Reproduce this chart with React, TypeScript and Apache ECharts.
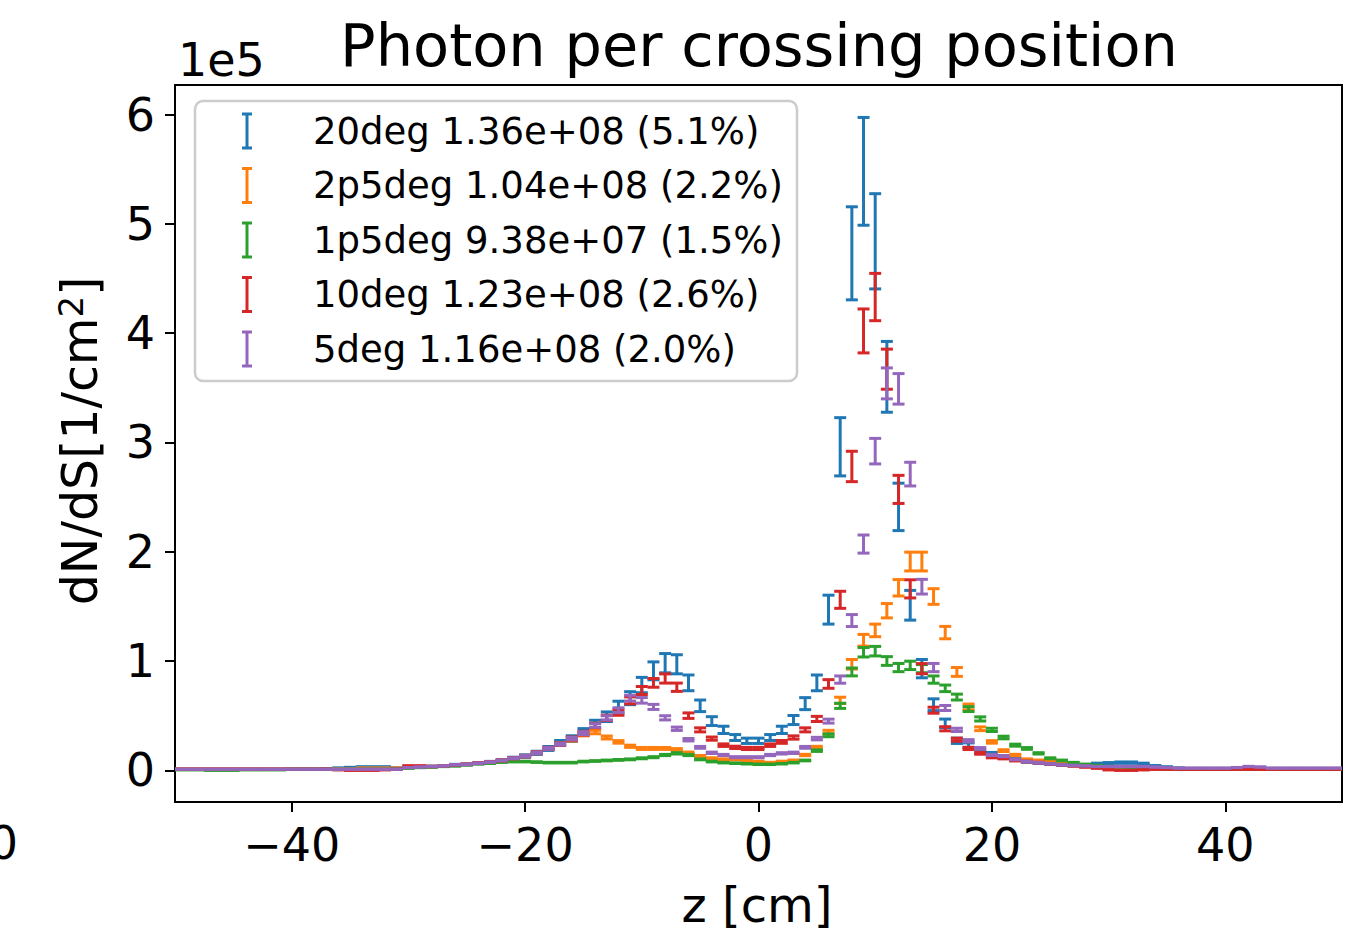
import React, { useEffect, useRef } from "react";
import * as echarts from "echarts";

// bin centres z [cm], 1 cm bins from -50 to 50
const zStart = -50;

// dN/dS in units of 1e5 per bin, z = -50 ... 50
const deg20 = [
  0.01, 0.01, 0.01, 0.01, 0.01, 0.01, 0.01, 0.01, 0.01, 0.01,
  0.01, 0.01, 0.01, 0.015, 0.02, 0.025, 0.03, 0.03, 0.03, 0.02,
  0.025, 0.03, 0.035, 0.04, 0.05, 0.055, 0.065, 0.075, 0.09, 0.11,
  0.13, 0.16, 0.2, 0.25, 0.29, 0.35, 0.42, 0.49, 0.58, 0.66,
  0.78, 0.91, 0.98, 0.97, 0.8, 0.59, 0.45, 0.37, 0.3, 0.27,
  0.27, 0.3, 0.37, 0.46, 0.61, 0.8, 1.47, 2.96, 4.73, 5.48,
  4.84, 3.6, 2.41, 1.51, 0.93, 0.6, 0.43, 0.27, 0.23, 0.17,
  0.15, 0.12, 0.1, 0.08, 0.07, 0.06, 0.05, 0.045, 0.04, 0.06,
  0.065, 0.07, 0.07, 0.06, 0.04, 0.03, 0.02, 0.015, 0.01, 0.01,
  0.01, 0.01, 0.01, 0.01, 0.01, 0.01, 0.01, 0.01, 0.01, 0.01, 0.01,
];
const deg2p5 = [
  0.01, 0.01, 0.01, 0.01, 0.01, 0.01, 0.01, 0.01, 0.01, 0.01,
  0.01, 0.01, 0.01, 0.01, 0.015, 0.015, 0.02, 0.02, 0.02, 0.02,
  0.025, 0.03, 0.035, 0.04, 0.05, 0.055, 0.065, 0.075, 0.09, 0.11,
  0.13, 0.16, 0.2, 0.24, 0.28, 0.33, 0.35, 0.3, 0.26, 0.22,
  0.2, 0.2, 0.2, 0.19, 0.16, 0.13, 0.11, 0.1, 0.1, 0.09,
  0.08, 0.07, 0.08, 0.09, 0.14, 0.21, 0.35, 0.64, 0.97, 1.19,
  1.28, 1.46, 1.67, 1.91, 1.91, 1.59, 1.26, 0.9, 0.58, 0.38,
  0.26, 0.18, 0.14, 0.1, 0.09, 0.08, 0.06, 0.05, 0.04, 0.035,
  0.03, 0.03, 0.025, 0.02, 0.02, 0.015, 0.015, 0.01, 0.01, 0.01,
  0.01, 0.01, 0.01, 0.01, 0.01, 0.01, 0.01, 0.01, 0.01, 0.01, 0.01,
];
const deg1p5 = [
  0.005, 0.005, 0.005, 0.0, 0.0, 0.0, 0.005, 0.005, 0.005, 0.005,
  0.01, 0.01, 0.01, 0.01, 0.01, 0.01, 0.01, 0.01, 0.01, 0.015,
  0.02, 0.025, 0.03, 0.035, 0.04, 0.05, 0.06, 0.065, 0.075, 0.08,
  0.08, 0.075, 0.07, 0.07, 0.07, 0.08, 0.085, 0.09, 0.095, 0.1,
  0.11, 0.12, 0.14, 0.155, 0.14, 0.1, 0.08, 0.07, 0.065, 0.06,
  0.055, 0.055, 0.06, 0.07, 0.09, 0.18, 0.32, 0.59, 0.9, 1.08,
  1.09, 1.0, 0.94, 0.96, 0.93, 0.83, 0.75, 0.67, 0.56, 0.47,
  0.37, 0.3, 0.23, 0.2, 0.155, 0.11, 0.09, 0.07, 0.055, 0.045,
  0.035, 0.03, 0.025, 0.02, 0.015, 0.01, 0.01, 0.01, 0.01, 0.01,
  0.01, 0.01, 0.01, 0.01, 0.01, 0.01, 0.01, 0.01, 0.01, 0.01, 0.01,
];
const deg10 = [
  0.01, 0.01, 0.01, 0.01, 0.01, 0.01, 0.01, 0.01, 0.01, 0.01,
  0.01, 0.01, 0.01, 0.01, 0.005, 0.0, 0.0, 0.0, 0.005, 0.01,
  0.04, 0.04, 0.035, 0.04, 0.05, 0.055, 0.065, 0.075, 0.09, 0.11,
  0.13, 0.16, 0.2, 0.24, 0.29, 0.34, 0.41, 0.48, 0.53, 0.64,
  0.73, 0.8, 0.84, 0.76, 0.5, 0.37, 0.29, 0.23, 0.21, 0.2,
  0.2, 0.23, 0.26, 0.3, 0.37, 0.47, 0.79, 1.56, 2.78, 4.02,
  4.33, 3.67, 2.57, 1.66, 0.93, 0.55, 0.38, 0.28, 0.2, 0.155,
  0.12, 0.11, 0.09, 0.08, 0.07, 0.06, 0.05, 0.04, 0.03, 0.02,
  0.005, 0.0, 0.0, 0.005, 0.01, 0.01, 0.01, 0.01, 0.01, 0.01,
  0.01, 0.01, 0.01, 0.01, 0.01, 0.01, 0.01, 0.01, 0.01, 0.01, 0.01,
];
const deg5 = [
  0.01, 0.01, 0.01, 0.01, 0.01, 0.01, 0.01, 0.01, 0.01, 0.01,
  0.01, 0.01, 0.01, 0.01, 0.01, 0.01, 0.01, 0.01, 0.01, 0.01,
  0.025, 0.03, 0.035, 0.04, 0.05, 0.055, 0.065, 0.075, 0.09, 0.11,
  0.13, 0.16, 0.2, 0.24, 0.29, 0.34, 0.41, 0.48, 0.55, 0.66,
  0.64, 0.58, 0.48, 0.38, 0.28, 0.21, 0.16, 0.14, 0.12, 0.12,
  0.12, 0.14, 0.155, 0.16, 0.21, 0.29, 0.45, 0.83, 1.37, 2.07,
  2.92, 3.54, 3.49, 2.71, 1.68, 0.94, 0.57, 0.37, 0.27, 0.2,
  0.14, 0.13, 0.1, 0.08, 0.07, 0.06, 0.05, 0.045, 0.04, 0.035,
  0.035, 0.035, 0.035, 0.035, 0.03, 0.025, 0.02, 0.02, 0.02, 0.02,
  0.02, 0.025, 0.035, 0.03, 0.02, 0.02, 0.02, 0.02, 0.02, 0.02, 0.02,
];

// relative statistical error
const relErr = [0.09, 0.045, 0.04, 0.05, 0.04];

const seriesNames = ["20deg", "2p5deg", "1p5deg", "10deg", "5deg"];
const legendLabels = [
  "20deg 1.36e+08 (5.1%)",
  "2p5deg 1.04e+08 (2.2%)",
  "1p5deg 9.38e+07 (1.5%)",
  "10deg 1.23e+08 (2.6%)",
  "5deg 1.16e+08 (2.0%)",
];
const seriesValues = [deg20, deg2p5, deg1p5, deg10, deg5];
const colors = ["#1f77b4", "#ff7f0e", "#2ca02c", "#d62728", "#9467bd"];

const xTicks = [-40, -20, 0, 20, 40];
const yTicks = [0, 1, 2, 3, 4, 5, 6];

const FONT = "DejaVu Sans";

export default function App() {
  const ref = useRef<HTMLDivElement>(null);
  useEffect(() => {
    if (!ref.current) return;
    const chart = echarts.init(ref.current, undefined, { renderer: "svg" });

    const capHalf = 6;
    const lw = 3;

    const series = seriesValues.map((vals, si) => ({
      type: "custom",
      name: seriesNames[si],
      clip: true,
      z: 2 + si,
      encode: { x: 0, y: 1 },
      data: vals.map((v, i) => [zStart + i, v, v * relErr[si]]),
      renderItem: (params: any, api: any) => {
        const z = api.value(0);
        const v = api.value(1);
        const e = api.value(2);
        const top = api.coord([z, v + e]);
        const bot = api.coord([z, v - e]);
        const style = { stroke: colors[si], lineWidth: lw, fill: "none" };
        return {
          type: "group",
          children: [
            { type: "line", shape: { x1: top[0], y1: top[1], x2: bot[0], y2: bot[1] }, style },
            { type: "line", shape: { x1: top[0] - capHalf, y1: top[1], x2: top[0] + capHalf, y2: top[1] }, style },
            { type: "line", shape: { x1: bot[0] - capHalf, y1: bot[1], x2: bot[0] + capHalf, y2: bot[1] }, style },
          ],
        };
      },
    }));

    const legendX = 195, legendY = 101, legendW = 602, legendH = 280;
    const rowY0 = 131, rowGap = 54.5;
    const legendEls: any[] = [
      {
        type: "rect",
        z: 100,
        shape: { x: legendX, y: legendY, width: legendW, height: legendH, r: 8 },
        style: { fill: "rgba(255,255,255,0.8)", stroke: "#cccccc", lineWidth: 2.5 },
      },
    ];
    legendLabels.forEach((lab, i) => {
      const cy = rowY0 + i * rowGap;
      const cx = 247;
      const h = 17;
      const st = { stroke: colors[i], lineWidth: 3 };
      legendEls.push(
        { type: "line", z: 101, shape: { x1: cx, y1: cy - h, x2: cx, y2: cy + h }, style: st },
        { type: "line", z: 101, shape: { x1: cx - 5, y1: cy - h, x2: cx + 5, y2: cy - h }, style: st },
        { type: "line", z: 101, shape: { x1: cx - 5, y1: cy + h, x2: cx + 5, y2: cy + h }, style: st },
        {
          type: "text",
          z: 101,
          x: 313,
          y: cy,
          style: { text: lab, fontFamily: FONT, fontSize: 37, fill: "#000", align: "left", verticalAlign: "middle" },
        }
      );
    });

    const option: any = {
      animation: false,
      backgroundColor: "#fff",
      grid: {
        left: 175,
        top: 85,
        width: 1167,
        height: 717,
        show: true,
        borderColor: "#000",
        borderWidth: 2,
        backgroundColor: "transparent",
        containLabel: false,
      },
      xAxis: {
        type: "value",
        min: -50,
        max: 50,
        axisLine: { show: false, onZero: false },
        splitLine: { show: false },
        axisTick: {
          show: true,
          customValues: xTicks,
          length: 10,
          lineStyle: { color: "#000", width: 2 },
        },
        axisLabel: {
          customValues: xTicks,
          fontFamily: FONT,
          fontSize: 46,
          color: "#000",
          margin: 20,
          formatter: (v: number) => (v < 0 ? "\u2212" + Math.abs(v) : String(v)),
        },
      },
      yAxis: {
        type: "value",
        min: -0.29,
        max: 6.27,
        axisLine: { show: false, onZero: false },
        splitLine: { show: false },
        axisTick: {
          show: true,
          customValues: yTicks,
          length: 10,
          lineStyle: { color: "#000", width: 2 },
        },
        axisLabel: {
          customValues: yTicks,
          fontFamily: FONT,
          fontSize: 46,
          color: "#000",
          margin: 20,
          formatter: (v: number) => String(v),
        },
      },
      graphic: [
        {
          type: "text",
          x: 759,
          y: 45,
          style: { text: "Photon per crossing position", fontFamily: FONT, fontSize: 59, fill: "#000", align: "center", verticalAlign: "middle" },
        },
        {
          type: "text",
          x: 178,
          y: 60,
          style: { text: "1e5", fontFamily: FONT, fontSize: 46, fill: "#000", align: "left", verticalAlign: "middle" },
        },
        {
          type: "text",
          x: 80,
          y: 441,
          rotation: Math.PI / 2,
          style: {
            text: "{a|dN/dS[1/cm}{s|2}{a|]}",
            fontFamily: FONT,
            fill: "#000",
            align: "center",
            verticalAlign: "middle",
            rich: {
              a: { fontFamily: FONT, fontSize: 49, fill: "#000" },
              s: { fontFamily: FONT, fontSize: 34, fill: "#000", verticalAlign: "top", padding: [0, 0, 18, 0] },
            },
          },
        },
        {
          type: "text",
          x: 757,
          y: 905,
          style: { text: "z [cm]", fontFamily: FONT, fontSize: 48, fill: "#000", align: "center", verticalAlign: "middle" },
        },
        {
          type: "text",
          x: 18,
          y: 843,
          style: { text: "0", fontFamily: FONT, fontSize: 46, fill: "#000", align: "right", verticalAlign: "middle" },
        },
        ...legendEls,
      ],
      series,
    };

    chart.setOption(option);
    return () => chart.dispose();
  }, []);

  return (
    <div
      ref={ref}
      style={{ position: "absolute", left: 0, top: 0, width: 1369, height: 928, background: "#fff" }}
    />
  );
}
